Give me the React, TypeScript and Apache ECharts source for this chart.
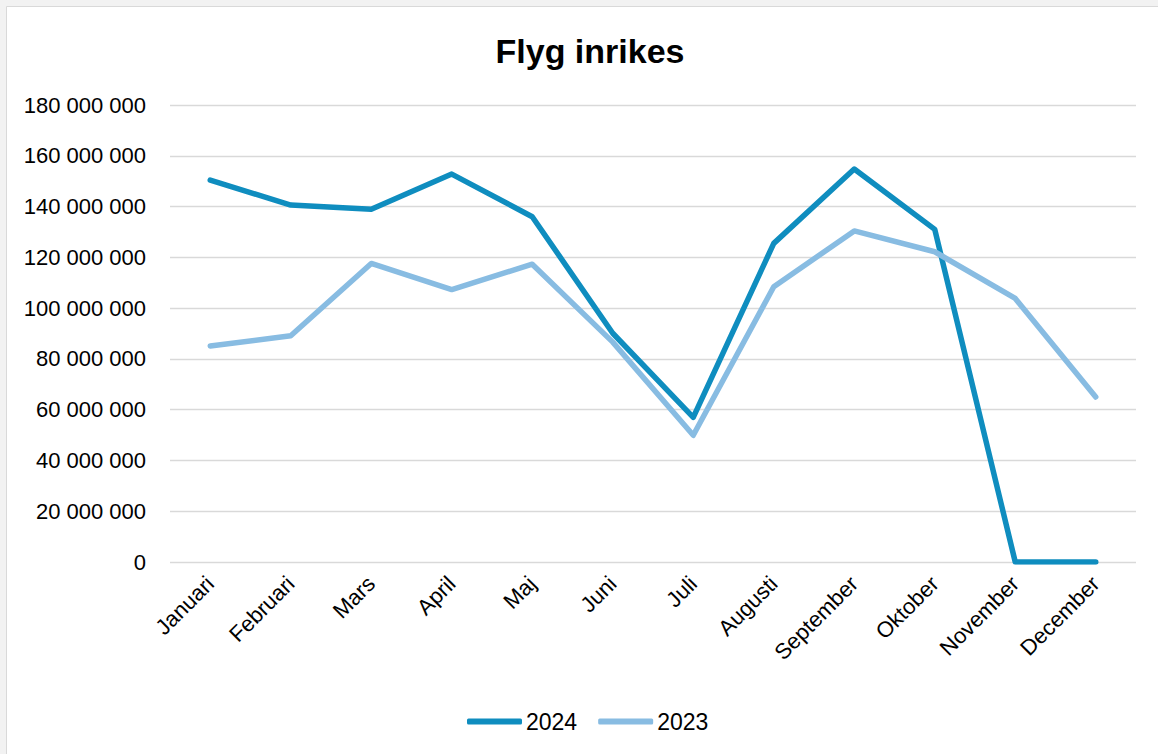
import React, { useEffect, useRef } from "react";
import * as echarts from "echarts";

const months = ["Januari", "Februari", "Mars", "April", "Maj", "Juni", "Juli", "Augusti", "September", "Oktober", "November", "December"];
const values2024 = [150400000, 140600000, 138900000, 152800000, 136000000, 90100000, 57000000, 125500000, 154800000, 131000000, 0, 0];
const values2023 = [85100000, 89100000, 117600000, 107300000, 117300000, 86600000, 49900000, 108400000, 130400000, 122200000, 103800000, 65000000];
const yTicks = { min: 0, max: 180000000, interval: 20000000 };

const FONT = "'Liberation Sans', Arial, sans-serif";
const fmt = (v: number) => String(v).replace(/\B(?=(\d{3})+(?!\d))/g, " ");

export default function App() {
  const ref = useRef<HTMLDivElement>(null);
  useEffect(() => {
    if (!ref.current) return;
    const chart = echarts.init(ref.current, undefined, { renderer: "svg" });
    chart.setOption({
      animation: false,
      backgroundColor: "#f2f2f2",
      graphic: [
        {
          type: "rect",
          z: -10,
          silent: true,
          shape: { x: 6.5, y: 6.5, width: 1160, height: 760 },
          style: { fill: "#ffffff", stroke: "#d9d9d9", lineWidth: 1 },
        },
      ],
      title: {
        text: "Flyg inrikes",
        left: 585,
        textAlign: "center",
        top: 29,
        textStyle: { fontFamily: FONT, fontSize: 34, fontWeight: "bold", color: "#000" },
      },
      grid: { left: 170, right: 22, top: 105, bottom: 192, containLabel: false },
      legend: {
        data: ["2024", "2023"],
        left: 462,
        top: 705,
        icon: "roundRect",
        itemWidth: 55,
        itemHeight: 6,
        itemGap: 21,
        textStyle: { fontFamily: FONT, fontSize: 23, color: "#000", padding: [0, 0, 0, -1] },
      },
      xAxis: {
        type: "category",
        data: months,
        boundaryGap: true,
        axisLine: { show: false },
        axisTick: { show: false },
        axisLabel: { rotate: 45, fontFamily: FONT, fontSize: 22, color: "#000", margin: 18, interval: 0 },
      },
      yAxis: {
        type: "value",
        min: yTicks.min,
        max: yTicks.max,
        interval: yTicks.interval,
        axisLine: { show: false },
        axisTick: { show: false },
        splitLine: { lineStyle: { color: "#d9d9d9", width: 1.3 } },
        axisLabel: { fontFamily: FONT, fontSize: 22, color: "#000", margin: 24, formatter: (v: number) => fmt(v) },
      },
      series: [
        {
          name: "2024",
          type: "line",
          data: values2024,
          symbol: "none",
          color: "#0f8dbf",
          lineStyle: { width: 5.5, color: "#0f8dbf", cap: "round", join: "round" },
        },
        {
          name: "2023",
          type: "line",
          data: values2023,
          symbol: "none",
          color: "#88bce2",
          lineStyle: { width: 5.5, color: "#88bce2", cap: "round", join: "round" },
        },
      ],
    });
    return () => chart.dispose();
  }, []);
  return (
    <div style={{ position: "fixed", left: 0, top: 0, width: 1158, height: 754 }}>
      <div ref={ref} style={{ width: 1158, height: 754 }} />
    </div>
  );
}
